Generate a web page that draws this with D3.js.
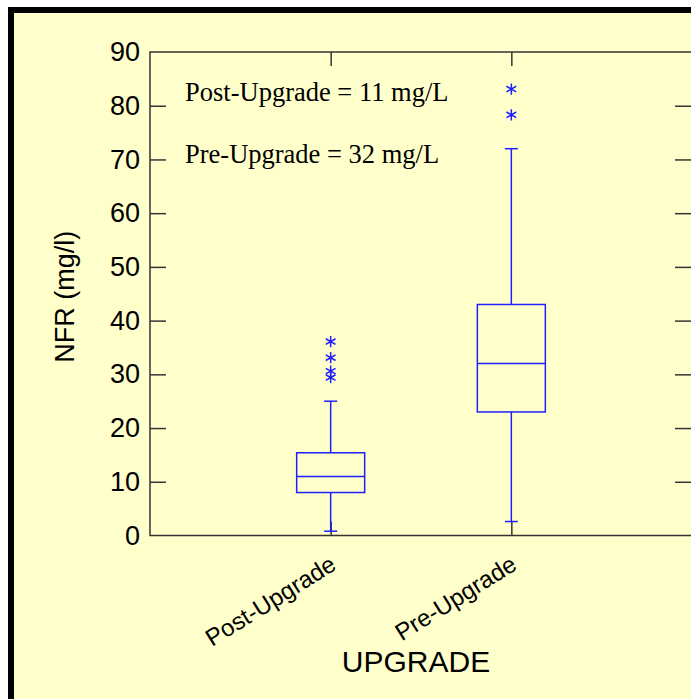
<!DOCTYPE html>
<html lang="en">
<head>
  <meta charset="UTF-8">
  <title>NFR by Upgrade</title>
  <script src="https://d3js.org/d3.v7.min.js"></script>
  <style>
    body { margin: 0; background: #fff; }
    svg { display: block; }
    .tick text { font-family: Arial, "Liberation Sans", sans-serif; }
  </style>
</head>
<body>
  <svg width="691" height="699"></svg>
  <script>
    // categories and box stats
    const categories = ['Post-Upgrade', 'Pre-Upgrade'];
    const lowWhisker = [0.8, 2.6];
    const q1 = [8, 23];
    const median = [11, 32];
    const q3 = [15.4, 43];
    const highWhisker = [25, 72];
    const outliers = [[29.4, 30.6, 33.1, 36.1], [78.3, 83.1]];
    const yTicks = [0, 10, 20, 30, 40, 50, 60, 70, 80, 90];
    const notes = ['Post-Upgrade = 11 mg/L', 'Pre-Upgrade = 32 mg/L'];

    const svg = d3.select('svg');
    const blue = '#1f1fff';
    const axisCol = '#333';

    // framed panel
    svg.append('rect')
      .attr('x', 11).attr('y', 10)
      .attr('width', 720).attr('height', 720)
      .attr('fill', '#ffffcc')
      .attr('stroke', '#000')
      .attr('stroke-width', 6);

    const pLeft = 150, pRight = 692, pTop = 52, pBottom = 535.5;

    const x = d3.scalePoint().domain(categories).range([pLeft, pRight]).padding(1);
    const y = d3.scaleLinear().domain([0, 90]).range([pBottom, pTop]);

    // plot frame
    svg.append('rect')
      .attr('x', pLeft).attr('y', pTop)
      .attr('width', pRight - pLeft).attr('height', pBottom - pTop)
      .attr('fill', 'none').attr('stroke', axisCol).attr('stroke-width', 1.5);

    // left axis
    const yAxis = svg.append('g')
      .attr('transform', `translate(${pLeft},0)`)
      .call(d3.axisLeft(y).tickValues(yTicks).tickSize(-16).tickPadding(10));
    yAxis.select('.domain').remove();
    yAxis.selectAll('.tick line').attr('stroke', axisCol).attr('stroke-width', 1.5);
    yAxis.selectAll('.tick text').attr('font-size', 27).attr('fill', '#000');
    yAxis.selectAll('.tick').filter(d => d === 0 || d === 90).select('line').remove();

    // right axis ticks
    const yRight = svg.append('g')
      .attr('transform', `translate(${pRight},0)`)
      .call(d3.axisRight(y).tickValues(yTicks.filter(d => d > 0 && d < 90)).tickSize(-17).tickFormat(''));
    yRight.select('.domain').remove();
    yRight.selectAll('.tick line').attr('stroke', axisCol).attr('stroke-width', 1.5);

    // top and bottom category ticks
    const xTop = svg.append('g')
      .attr('transform', `translate(0,${pTop})`)
      .call(d3.axisTop(x).tickSize(-14).tickFormat(''));
    xTop.select('.domain').remove();
    xTop.selectAll('.tick line').attr('stroke', axisCol).attr('stroke-width', 1.5);

    const xBottom = svg.append('g')
      .attr('transform', `translate(0,${pBottom})`)
      .call(d3.axisBottom(x).tickSize(-14).tickPadding(0));
    xBottom.select('.domain').remove();
    xBottom.selectAll('.tick line').attr('stroke', axisCol).attr('stroke-width', 1.5);
    xBottom.selectAll('.tick text')
      .attr('font-size', 24).attr('fill', '#000')
      .attr('text-anchor', 'end')
      .attr('transform', 'translate(2,26) rotate(-32)')
      .attr('dy', '0.35em');

    // boxes
    const boxW = 68, capW = 13;
    const boxes = svg.append('g')
      .selectAll('g')
      .data(categories.map((c, i) => ({c, i})))
      .join('g');

    boxes.append('line')
      .attr('x1', d => x(d.c)).attr('x2', d => x(d.c))
      .attr('y1', d => y(lowWhisker[d.i])).attr('y2', d => y(q1[d.i]))
      .attr('stroke', blue).attr('stroke-width', 1.5);
    boxes.append('line')
      .attr('x1', d => x(d.c)).attr('x2', d => x(d.c))
      .attr('y1', d => y(q3[d.i])).attr('y2', d => y(highWhisker[d.i]))
      .attr('stroke', blue).attr('stroke-width', 1.5);
    boxes.append('line')
      .attr('x1', d => x(d.c) - capW / 2).attr('x2', d => x(d.c) + capW / 2)
      .attr('y1', d => y(lowWhisker[d.i])).attr('y2', d => y(lowWhisker[d.i]))
      .attr('stroke', blue).attr('stroke-width', 1.5);
    boxes.append('line')
      .attr('x1', d => x(d.c) - capW / 2).attr('x2', d => x(d.c) + capW / 2)
      .attr('y1', d => y(highWhisker[d.i])).attr('y2', d => y(highWhisker[d.i]))
      .attr('stroke', blue).attr('stroke-width', 1.5);
    boxes.append('rect')
      .attr('x', d => x(d.c) - boxW / 2)
      .attr('y', d => y(q3[d.i]))
      .attr('width', boxW)
      .attr('height', d => y(q1[d.i]) - y(q3[d.i]))
      .attr('fill', 'none').attr('stroke', blue).attr('stroke-width', 1.5);
    boxes.append('line')
      .attr('x1', d => x(d.c) - boxW / 2).attr('x2', d => x(d.c) + boxW / 2)
      .attr('y1', d => y(median[d.i])).attr('y2', d => y(median[d.i]))
      .attr('stroke', blue).attr('stroke-width', 1.5);

    // outliers as asterisks
    const star = d3.symbol().type(d3.symbolAsterisk).size(90);
    boxes.each(function(d) {
      d3.select(this).selectAll('path.out')
        .data(outliers[d.i])
        .join('path')
        .attr('class', 'out')
        .attr('d', star)
        .attr('transform', v => `translate(${x(d.c)},${y(v)})`)
        .attr('fill', 'none').attr('stroke', blue).attr('stroke-width', 1.5);
    });

    // annotations
    svg.append('g').selectAll('text')
      .data(notes)
      .join('text')
      .attr('x', 185)
      .attr('y', (d, i) => 101 + i * 62)
      .attr('font-family', '"Liberation Serif", "Times New Roman", serif')
      .attr('font-size', 26.5)
      .attr('fill', '#000')
      .text(d => d);

    // axis titles
    svg.append('text')
      .attr('transform', `translate(74,${(pTop + pBottom) / 2 + 3}) rotate(-90)`)
      .attr('text-anchor', 'middle')
      .attr('font-family', 'Arial, "Liberation Sans", sans-serif')
      .attr('font-size', 27)
      .text('NFR (mg/l)');

    svg.append('text')
      .attr('x', 416).attr('y', 672)
      .attr('text-anchor', 'middle')
      .attr('font-family', 'Arial, "Liberation Sans", sans-serif')
      .attr('font-size', 30)
      .text('UPGRADE');
  </script>
</body>
</html>
